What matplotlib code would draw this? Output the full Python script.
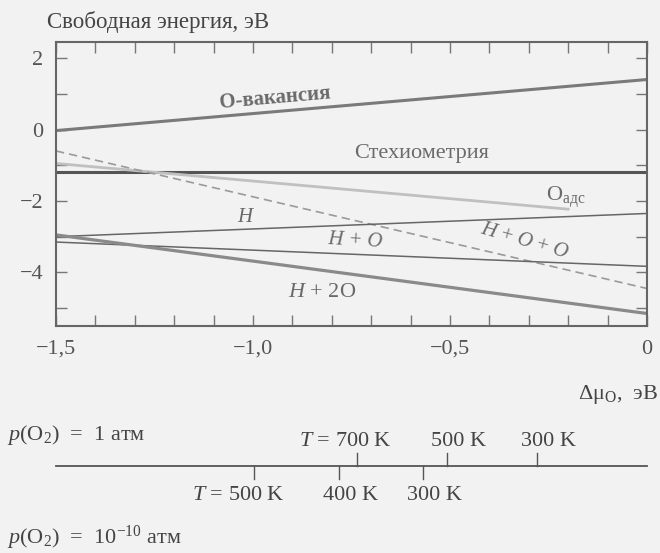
import matplotlib
matplotlib.use("Agg")
import matplotlib.pyplot as plt
import numpy as np

plt.rcParams['font.family'] = ['Liberation Serif', 'DejaVu Serif']
plt.rcParams['mathtext.fontset'] = 'custom'
plt.rcParams['mathtext.rm'] = 'Liberation Serif'
plt.rcParams['mathtext.it'] = 'Liberation Serif:italic'

# ---- data (Δμ_O in eV, free energy in eV) ----
x_ends = [-1.5, 0.0]
o_vac = [-0.03, 1.4]
stoich = [-1.19, -1.19]
h_line = [-3.0, -2.35]
h_o = [-3.15, -3.83]
h_2o = [-2.95, -5.15]
h_o_o = [-0.6, -4.45]
o_ads_x = [-1.5, -0.2]
o_ads_y = [-0.95, -2.23]

x_tick_vals = [-1.5, -1.0, -0.5, 0.0]
x_tick_labels = ['\u22121,5', '\u22121,0', '\u22120,5', '0']
y_tick_vals = [2, 0, -2, -4]
y_tick_labels = ['2', '0', '\u22122', '\u22124']

# temperature scales
t_upper_pos = [-0.736, -0.508, -0.279]
t_upper_lab = ['$T$ = 700 K', '500 K', '300 K']
t_lower_pos = [-0.997, -0.782, -0.569]
t_lower_lab = ['$T$ = 500 K', '400 K', '300 K']

W, H = 660, 553
bg = '#f2f2f2'
fg = '#444444'
fig = plt.figure(figsize=(W / 100, H / 100), dpi=100, facecolor=bg)

L, R, T, B = 56, 647, 42, 326
ax = fig.add_axes([L / W, 1 - B / H, (R - L) / W, (B - T) / H], facecolor=bg)
ax.set_xlim(-1.5, 0)
ax.set_ylim(-5.5, 2.45)

ax.plot(x_ends, o_vac, color='#7a7a7a', lw=2.2, solid_capstyle='butt')
ax.plot(x_ends, stoich, color='#555555', lw=2.2)
ax.plot(o_ads_x, o_ads_y, color='#c0c0c0', lw=2.0)
ax.plot(x_ends, h_o_o, color='#9a9a9a', lw=1.2, ls=(0, (5, 3)))
ax.plot(x_ends, h_line, color='#666666', lw=1.1)
ax.plot(x_ends, h_o, color='#666666', lw=1.1)
ax.plot(x_ends, h_2o, color='#8a8a8a', lw=2.3)

for s in ax.spines.values():
    s.set_color('#666666')
    s.set_linewidth(1.5)

ax.set_xticks(x_tick_vals)
ax.set_xticklabels(x_tick_labels)
ax.set_xticks(np.arange(-1.5, 0.001, 0.1), minor=True)
ax.set_yticks(y_tick_vals)
ax.set_yticklabels(y_tick_labels)
ax.set_yticks(np.arange(-5, 2.5, 1), minor=True)
ax.tick_params(axis='both', which='both', direction='in', color='#777777',
               top=True, right=True, labelsize=16, labelcolor='#555555')
ax.tick_params(axis='both', which='both', length=8, width=1.0)
ax.tick_params(axis='x', pad=10)
ax.tick_params(axis='y', pad=9)

lab_kw = dict(color='#6a6a6a', ha='center', va='center')
ax.text(-0.944, 0.88, 'О-вакансия', fontsize=15, rotation=5, fontweight='semibold', **lab_kw)
ax.text(-0.571, -0.67, 'Стехиометрия', fontsize=16, **lab_kw)
ax.text(-0.206, -1.90, 'O$_{\\mathrm{адс}}$', fontsize=16, **lab_kw)
ax.text(-1.018, -2.47, '$H$', fontsize=15, **lab_kw)
ax.text(-0.739, -3.11, '$H$ + O', fontsize=15, style='italic', rotation=-3, **lab_kw)
ax.text(-0.31, -3.14, '$H$ + $O$ + $O$', fontsize=15, rotation=-16, **lab_kw)
ax.text(-0.825, -4.57, '$H$ + 2O', fontsize=16, **lab_kw)

fig.text(47 / W, 1 - 22 / H, 'Свободная энергия, эВ', fontsize=16.5, color=fg,
         ha='left', va='center')
fig.text(658 / W, 1 - 395 / H, 'Δμ$_\\mathrm{O}$,  эВ', fontsize=16, color=fg,
         ha='right', va='center')

# bottom temperature scale
ax2 = fig.add_axes([L / W, 1 - 500 / H, (R - L) / W, 70 / H])
ax2.set_xlim(-1.5, 0)
ax2.set_ylim(0, 70)
ax2.axis('off')
ax2.patch.set_alpha(0)
yl = 34
ax2.plot([-1.5, 0], [yl, yl], color='#555555', lw=1.3, clip_on=False)
for p in t_upper_pos:
    ax2.plot([p, p], [yl, yl + 13], color='#555555', lw=1.0)
for p in t_lower_pos:
    ax2.plot([p, p], [yl, yl - 13], color='#555555', lw=1.0)

tkw = dict(fontsize=16, color=fg, va='center', clip_on=False)
ax2.text(t_upper_pos[0] + 0.089, 58, t_upper_lab[0], ha='right', **tkw)
for p, lab in zip(t_upper_pos[1:], t_upper_lab[1:]):
    ax2.text(p + 0.03, 58, lab, ha='center', **tkw)
ax2.text(t_lower_pos[0] + 0.079, 5, t_lower_lab[0], ha='right', **tkw)
for p, lab in zip(t_lower_pos[1:], t_lower_lab[1:]):
    ax2.text(p + 0.03, 5, lab, ha='center', **tkw)

fig.text(7 / W, 1 - 435 / H, '$p$(O$_2$)  =  1 атм', fontsize=16, color=fg,
         ha='left', va='center')
fig.text(7 / W, 1 - 538 / H, '$p$(O$_2$)  =  10$^{-10}$ атм', fontsize=16, color=fg,
         ha='left', va='center')

fig.savefig('out.png', dpi=100, facecolor=bg)
